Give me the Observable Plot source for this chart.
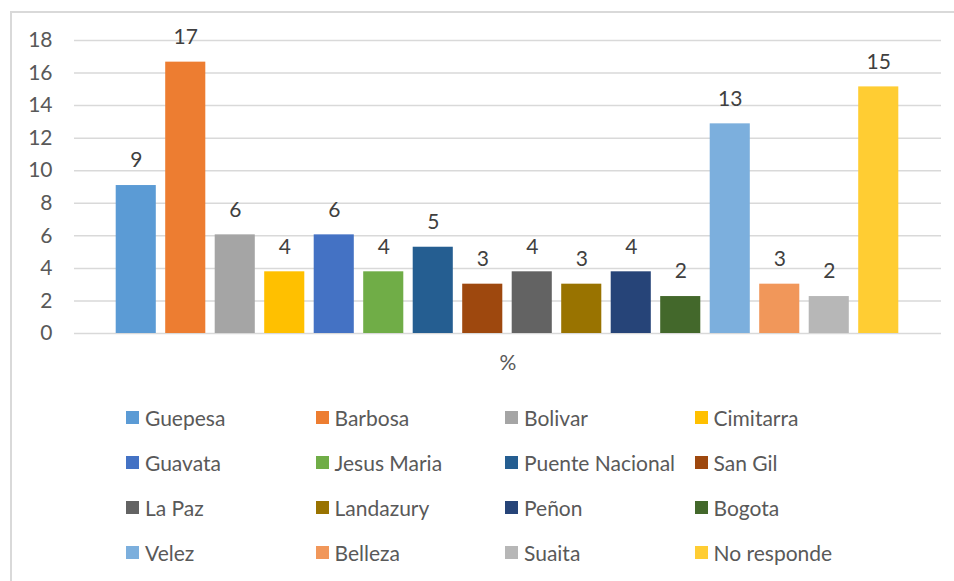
<!DOCTYPE html>
<html>
<head>
<meta charset="utf-8">
<script src="https://cdn.jsdelivr.net/npm/d3@7"></script>
<script src="https://cdn.jsdelivr.net/npm/@observablehq/plot@0.6"></script>
<style>
  html, body { margin: 0; padding: 0; background: #fff; }
  body { width: 954px; height: 581px; position: relative; overflow: hidden; font-family: Lato, "Open Sans", sans-serif; }
  #frame { position: absolute; left: 10px; top: 11px; right: -2px; bottom: -2px; border-left: 2px solid #d9d9d9; border-top: 2px solid #d9d9d9; pointer-events: none; }
  #chart { position: absolute; left: 0; top: 0; }
  #legend { position: absolute; left: 126px; top: 395px; display: grid; grid-template-columns: repeat(4, 189.5px); grid-auto-rows: 45px; }
  .item { display: flex; align-items: center; height: 45px; white-space: nowrap; font-size: 21px; color: #595959; }
  .sw { width: 13px; height: 13px; margin-right: 6px; flex: none; }
</style>
</head>
<body>
<div id="chart"></div>
<div id="legend"></div>
<div id="frame"></div>
<script>
const names = ["Guepesa", "Barbosa", "Bolivar", "Cimitarra", "Guavata", "Jesus Maria", "Puente Nacional", "San Gil",
               "La Paz", "Landazury", "Peñon", "Bogota", "Velez", "Belleza", "Suaita", "No responde"];
const values = [9.09, 16.67, 6.06, 3.79, 6.06, 3.79, 5.30, 3.03, 3.79, 3.03, 3.79, 2.27, 12.88, 3.03, 2.27, 15.15];
const colors = ["#5B9BD5", "#ED7D31", "#A5A5A5", "#FFC000", "#4472C4", "#70AD47", "#255E91", "#9E480E",
                "#636363", "#997300", "#264478", "#43682B", "#7CAFDD", "#F1975A", "#B7B7B7", "#FFCD33"];
const yTicks = [0, 2, 4, 6, 8, 10, 12, 14, 16, 18];
const axisTitle = "%";

const data = names.map((name, i) => ({name, value: values[i]}));

const chart = Plot.plot({
  width: 954,
  height: 380,
  marginLeft: 74,
  marginRight: 13,
  marginTop: 40,
  marginBottom: 47,
  style: {fontFamily: "Lato, 'Open Sans', sans-serif", fontSize: "21px", color: "#595959", background: "transparent"},
  x: {domain: names, paddingInner: 0.19, paddingOuter: 0.095, insetLeft: 37, insetRight: 38, round: false, axis: null},
  y: {domain: [0, 18], ticks: yTicks},
  color: {domain: names, range: colors},
  marks: [
    Plot.ruleY(yTicks, {stroke: "#d9d9d9", strokeWidth: 1.5}),
    Plot.axisY({ticks: yTicks, tickSize: 0, tickPadding: 22, label: null, fill: "#595959"}),
    Plot.barY(data, {x: "name", y: "value", fill: "name"}),
    Plot.text(data, {x: "name", y: "value", text: d => d3.format(".0f")(d.value), dy: -25, lineAnchor: "middle", fill: "#404040"}),
    Plot.text([axisTitle], {frameAnchor: "bottom", dy: 30, lineAnchor: "middle", fill: "#595959"})
  ]
});
document.getElementById("chart").append(chart);

const legend = d3.select("#legend");
names.forEach((n, i) => {
  const item = legend.append("div").attr("class", "item");
  item.append("span").attr("class", "sw").style("background", colors[i]);
  item.append("span").text(n);
});
</script>
</body>
</html>
